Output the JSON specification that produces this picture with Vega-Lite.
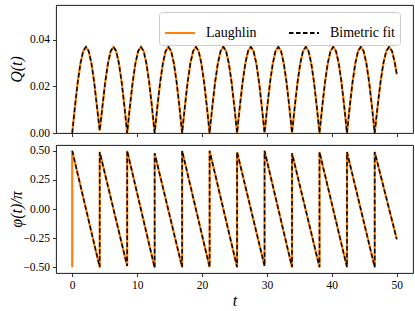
{
  "$schema": "https://vega.github.io/schema/vega-lite/v6.json",
  "padding": {"left": 7, "top": 4, "right": 4, "bottom": 4},
  "spacing": 12,
  "bounds": "flush",
  "datasets": {
    "q": [
      {"t": 0, "Q": 0}, {"t": 0.423, "Q": 0.0114}, {"t": 0.847, "Q": 0.0218}, {"t": 1.27, "Q": 0.0299}, {"t": 1.693, "Q": 0.0352}, {"t": 2.117, "Q": 0.037}, {"t": 2.54, "Q": 0.0352}, {"t": 2.963, "Q": 0.0299}, {"t": 3.386, "Q": 0.0218}, {"t": 3.81, "Q": 0.0114},
      {"t": 4.233, "Q": 0.001}, {"t": 4.656, "Q": 0.0114}, {"t": 5.08, "Q": 0.0218}, {"t": 5.503, "Q": 0.0299}, {"t": 5.926, "Q": 0.0352}, {"t": 6.35, "Q": 0.037}, {"t": 6.773, "Q": 0.0352}, {"t": 7.196, "Q": 0.0299}, {"t": 7.619, "Q": 0.0218}, {"t": 8.043, "Q": 0.0114},
      {"t": 8.466, "Q": 0}, {"t": 8.889, "Q": 0.0114}, {"t": 9.313, "Q": 0.0218}, {"t": 9.736, "Q": 0.0299}, {"t": 10.159, "Q": 0.0352}, {"t": 10.583, "Q": 0.037}, {"t": 11.006, "Q": 0.0352}, {"t": 11.429, "Q": 0.0299}, {"t": 11.852, "Q": 0.0218}, {"t": 12.276, "Q": 0.0114},
      {"t": 12.699, "Q": 0}, {"t": 13.122, "Q": 0.0114}, {"t": 13.546, "Q": 0.0218}, {"t": 13.969, "Q": 0.0299}, {"t": 14.392, "Q": 0.0352}, {"t": 14.816, "Q": 0.037}, {"t": 15.239, "Q": 0.0352}, {"t": 15.662, "Q": 0.0299}, {"t": 16.085, "Q": 0.0218}, {"t": 16.509, "Q": 0.0114},
      {"t": 16.932, "Q": 0}, {"t": 17.355, "Q": 0.0114}, {"t": 17.779, "Q": 0.0218}, {"t": 18.202, "Q": 0.0299}, {"t": 18.625, "Q": 0.0352}, {"t": 19.049, "Q": 0.037}, {"t": 19.472, "Q": 0.0352}, {"t": 19.895, "Q": 0.0299}, {"t": 20.318, "Q": 0.0218}, {"t": 20.742, "Q": 0.0114},
      {"t": 21.165, "Q": 0}, {"t": 21.588, "Q": 0.0114}, {"t": 22.012, "Q": 0.0218}, {"t": 22.435, "Q": 0.0299}, {"t": 22.858, "Q": 0.0352}, {"t": 23.282, "Q": 0.037}, {"t": 23.705, "Q": 0.0352}, {"t": 24.128, "Q": 0.0299}, {"t": 24.551, "Q": 0.0218}, {"t": 24.975, "Q": 0.0114},
      {"t": 25.398, "Q": 0}, {"t": 25.821, "Q": 0.0114}, {"t": 26.245, "Q": 0.0218}, {"t": 26.668, "Q": 0.0299}, {"t": 27.091, "Q": 0.0352}, {"t": 27.515, "Q": 0.037}, {"t": 27.938, "Q": 0.0352}, {"t": 28.361, "Q": 0.0299}, {"t": 28.784, "Q": 0.0218}, {"t": 29.208, "Q": 0.0114},
      {"t": 29.631, "Q": 0}, {"t": 30.054, "Q": 0.0114}, {"t": 30.478, "Q": 0.0218}, {"t": 30.901, "Q": 0.0299}, {"t": 31.324, "Q": 0.0352}, {"t": 31.748, "Q": 0.037}, {"t": 32.171, "Q": 0.0352}, {"t": 32.594, "Q": 0.0299}, {"t": 33.017, "Q": 0.0218}, {"t": 33.441, "Q": 0.0114},
      {"t": 33.864, "Q": 0}, {"t": 34.287, "Q": 0.0114}, {"t": 34.711, "Q": 0.0218}, {"t": 35.134, "Q": 0.0299}, {"t": 35.557, "Q": 0.0352}, {"t": 35.981, "Q": 0.037}, {"t": 36.404, "Q": 0.0352}, {"t": 36.827, "Q": 0.0299}, {"t": 37.25, "Q": 0.0218}, {"t": 37.674, "Q": 0.0114},
      {"t": 38.097, "Q": 0}, {"t": 38.52, "Q": 0.0114}, {"t": 38.944, "Q": 0.0218}, {"t": 39.367, "Q": 0.0299}, {"t": 39.79, "Q": 0.0352}, {"t": 40.214, "Q": 0.037}, {"t": 40.637, "Q": 0.0352}, {"t": 41.06, "Q": 0.0299}, {"t": 41.483, "Q": 0.0218}, {"t": 41.907, "Q": 0.0114},
      {"t": 42.33, "Q": 0}, {"t": 42.757, "Q": 0.0114}, {"t": 43.184, "Q": 0.0218}, {"t": 43.611, "Q": 0.0299}, {"t": 44.038, "Q": 0.0352}, {"t": 44.465, "Q": 0.037}, {"t": 44.892, "Q": 0.0352}, {"t": 45.319, "Q": 0.0299}, {"t": 45.746, "Q": 0.0218}, {"t": 46.173, "Q": 0.0114},
      {"t": 46.6, "Q": 0}, {"t": 47.045, "Q": 0.0114}, {"t": 47.49, "Q": 0.0218}, {"t": 47.935, "Q": 0.0299}, {"t": 48.38, "Q": 0.0352}, {"t": 48.825, "Q": 0.037}, {"t": 49.27, "Q": 0.0352}, {"t": 49.715, "Q": 0.0299}, {"t": 50, "Q": 0.0252}
    ],
    "p": [
      {"t": 0, "phi": -0.5}, {"t": 0, "phi": 0.5},
      {"t": 4.233, "phi": -0.5}, {"t": 4.233, "phi": 0.49},
      {"t": 8.466, "phi": -0.49}, {"t": 8.466, "phi": 0.5},
      {"t": 12.699, "phi": -0.505}, {"t": 12.699, "phi": 0.48},
      {"t": 16.932, "phi": -0.5}, {"t": 16.932, "phi": 0.5},
      {"t": 21.165, "phi": -0.5}, {"t": 21.165, "phi": 0.5},
      {"t": 25.398, "phi": -0.5}, {"t": 25.398, "phi": 0.49},
      {"t": 29.631, "phi": -0.49}, {"t": 29.631, "phi": 0.5},
      {"t": 33.864, "phi": -0.5}, {"t": 33.864, "phi": 0.48},
      {"t": 38.097, "phi": -0.5}, {"t": 38.097, "phi": 0.49},
      {"t": 42.33, "phi": -0.5}, {"t": 42.33, "phi": 0.49},
      {"t": 46.6, "phi": -0.5}, {"t": 46.6, "phi": 0.49},
      {"t": 50, "phi": -0.26}
    ]
  },
  "resolve": {"scale": {"color": "independent", "strokeDash": "independent"}},
  "vconcat": [
    {
      "width": 357,
      "height": 128,
      "data": {"name": "q"},
      "encoding": {
        "x": {"field": "t", "type": "quantitative", "scale": {"domain": [-2.5, 52.5], "nice": false, "zero": false},
              "axis": {"values": [0, 10, 20, 30, 40, 50], "labels": false, "title": null}},
        "y": {"field": "Q", "type": "quantitative", "scale": {"domain": [0, 0.055], "nice": false},
              "axis": {"values": [0, 0.02, 0.04], "format": ".2f", "title": "Q(t)", "titleX": -40, "titleBaseline": "middle"}}
      },
      "layer": [
        {
          "mark": {"type": "line", "strokeWidth": 2.2},
          "encoding": {
            "color": {"datum": "Laughlin", "type": "nominal", "scale": {"domain": ["Laughlin", "Bimetric fit"], "range": ["#ff7f0e", "#000000"]}},
            "strokeDash": {"datum": "Laughlin", "type": "nominal", "scale": {"domain": ["Laughlin", "Bimetric fit"], "range": [[1, 0], [4.5, 2.5]]}}
          }
        },
        {
          "mark": {"type": "line", "strokeWidth": 1.5},
          "encoding": {
            "color": {"datum": "Bimetric fit", "type": "nominal", "scale": {"domain": ["Laughlin", "Bimetric fit"], "range": ["#ff7f0e", "#000000"]}},
            "strokeDash": {"datum": "Bimetric fit", "type": "nominal", "scale": {"domain": ["Laughlin", "Bimetric fit"], "range": [[1, 0], [4.5, 2.5]]}}
          }
        }
      ]
    },
    {
      "width": 357,
      "height": 128,
      "data": {"name": "p"},
      "encoding": {
        "x": {"field": "t", "type": "quantitative", "scale": {"domain": [-2.5, 52.5], "nice": false, "zero": false},
              "axis": {"values": [0, 10, 20, 30, 40, 50], "format": "d", "title": "t", "titlePadding": 1}},
        "y": {"field": "phi", "type": "quantitative", "scale": {"domain": [-0.55, 0.55], "nice": false},
              "axis": {"values": [-0.5, -0.25, 0, 0.25, 0.5], "format": ".2f", "title": "φ(t)/π", "titleX": -40, "titleBaseline": "middle"}},
        "order": {"value": null}
      },
      "layer": [
        {
          "mark": {"type": "line", "strokeWidth": 2.2, "color": "#ff7f0e"}
        },
        {
          "transform": [{"filter": "datum.t > 0 || datum.phi > 0"}],
          "mark": {"type": "line", "strokeWidth": 1.5, "color": "#000000", "strokeDash": [4.5, 2.5]}
        }
      ]
    }
  ],
  "config": {
    "font": "Liberation Serif",
    "view": {"stroke": "#000000", "strokeWidth": 0.9},
    "axis": {
      "domain": false, "grid": false,
      "tickColor": "#000000", "tickSize": 3.5, "tickWidth": 0.8,
      "labelFont": "Liberation Serif", "labelFontSize": 11.5, "labelColor": "#000000", "labelPadding": 3,
      "titleFont": "Liberation Serif", "titleFontSize": 16, "titleFontWeight": "normal", "titleFontStyle": "italic", "titleColor": "#000000"
    },
    "legend": {
      "orient": "none", "legendX": 103, "legendY": 7,
      "direction": "horizontal", "columns": 2, "title": null,
      "symbolType": "stroke", "symbolSize": 900, "symbolStrokeWidth": 2,
      "labelFont": "Liberation Serif", "labelFontSize": 14, "labelColor": "#000000", "labelOffset": 10,
      "columnPadding": 28, "padding": 5,
      "strokeColor": "#cccccc", "cornerRadius": 3, "fillColor": "rgba(255,255,255,0.8)"
    }
  }
}
